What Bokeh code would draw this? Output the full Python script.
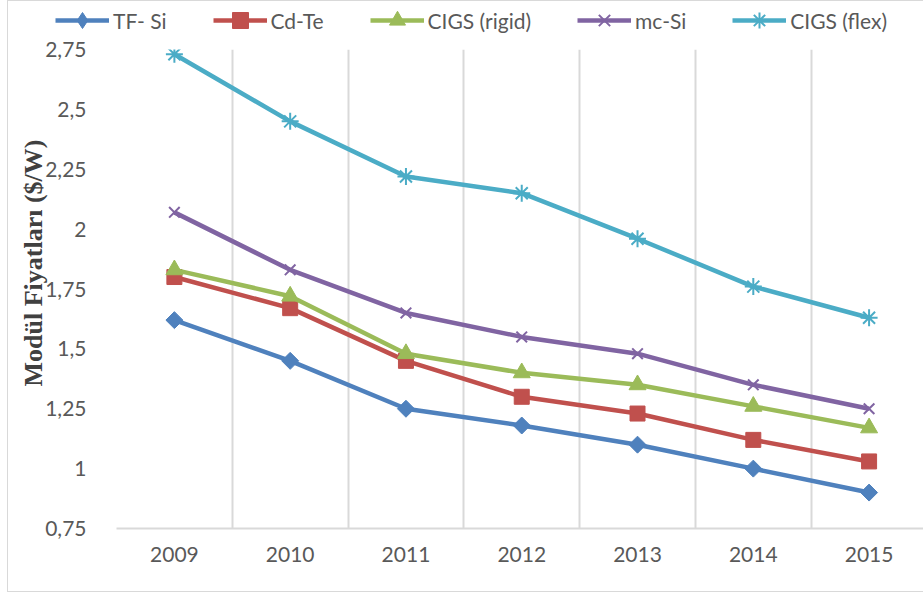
import math
from bokeh.plotting import figure
from bokeh.layouts import column
from bokeh.models import FixedTicker, Legend, LegendItem, Title, Range1d
from bokeh.embed import file_html
from bokeh.resources import INLINE

years = ["2009", "2010", "2011", "2012", "2013", "2014", "2015"]
tf_si = [1.62, 1.45, 1.25, 1.18, 1.10, 1.00, 0.90]
cd_te = [1.80, 1.67, 1.45, 1.30, 1.23, 1.12, 1.03]
cigs_rigid = [1.83, 1.72, 1.48, 1.40, 1.35, 1.26, 1.17]
mc_si = [2.07, 1.83, 1.65, 1.55, 1.48, 1.35, 1.25]
cigs_flex = [2.73, 2.45, 2.22, 2.15, 1.96, 1.76, 1.63]
y_ticks = [0.75, 1.0, 1.25, 1.5, 1.75, 2.0, 2.25, 2.5, 2.75]
y_tick_labels = ["0,75", "1", "1,25", "1,5", "1,75", "2", "2,25", "2,5", "2,75"]
y_title = "Modül Fiyatları ($/W)"

xs = list(range(len(years)))

# name, values, colour, chart marker, size, angle, marker line width, legend marker
series = [
    ("TF- Si", tf_si, "#4F81BD", "square", 12, math.pi / 4, 1, "diamond"),
    ("Cd-Te", cd_te, "#C0504D", "square", 15, 0, 1, "square"),
    ("CIGS (rigid)", cigs_rigid, "#9BBB59", "triangle", 17, 0, 1, "triangle"),
    ("mc-Si", mc_si, "#8064A2", "x", 15, 0, 2, "x"),
    ("CIGS (flex)", cigs_flex, "#4BACC6", "asterisk", 17, 0, 2, "asterisk"),
]

# main chart
p = figure(width=915, height=554, output_backend="svg", toolbar_location=None,
           x_range=Range1d(-0.5, 6.47), y_range=Range1d(0.75, 2.75),
           min_border_left=108, min_border_right=0, min_border_top=12, min_border_bottom=63)
p.frame_align = False
p.outline_line_color = None
p.background_fill_color = "white"

p.xaxis.ticker = FixedTicker(ticks=xs)
p.xaxis.major_label_overrides = {i: y for i, y in enumerate(years)}
p.xaxis.axis_line_color = "#d9d9d9"
p.xaxis.axis_line_width = 2
p.xaxis.major_tick_line_color = None
p.xaxis.minor_tick_line_color = None
p.xaxis.major_label_standoff = 12
p.xaxis.major_label_text_font = "Lato"
p.xaxis.major_label_text_font_size = "21px"
p.xaxis.major_label_text_color = "#595959"

p.yaxis.ticker = FixedTicker(ticks=y_ticks)
p.yaxis.major_label_overrides = {t: l for t, l in zip(y_ticks, y_tick_labels)}
p.yaxis.axis_line_color = None
p.yaxis.major_tick_line_color = None
p.yaxis.minor_tick_line_color = None
p.yaxis.major_label_standoff = 24
p.yaxis.major_label_text_font = "Lato"
p.yaxis.major_label_text_font_size = "21px"
p.yaxis.major_label_text_color = "#595959"

p.ygrid.grid_line_color = None
p.xgrid.ticker = FixedTicker(ticks=[i - 0.5 for i in range(len(years) + 1)])
p.xgrid.grid_line_color = "#d9d9d9"
p.xgrid.grid_line_width = 2

for name, vals, color, marker, size, angle, lw, lmarker in series:
    p.line(xs, vals, line_color=color, line_width=4.5)
    p.scatter(xs, vals, marker=marker, size=size, angle=angle,
              fill_color=color, line_color=color, line_width=lw)

title = Title(text=y_title, align="left", offset=142,
              text_font="Liberation Serif", text_font_style="bold",
              text_font_size="26px", text_color="#404040")
if "standoff" in Title.properties():
    title.standoff = -11
p.add_layout(title, "left")

# legend strip (same series, drawn outside its visible range so only the legend shows)
lg = figure(width=915, height=36, output_backend="svg", toolbar_location=None,
            x_range=Range1d(100, 101), y_range=Range1d(100, 101),
            x_axis_type=None, y_axis_type=None,
            min_border_left=0, min_border_right=0, min_border_top=0, min_border_bottom=0)
lg.frame_align = False
lg.outline_line_color = None
lg.xgrid.visible = False
lg.ygrid.visible = False
items = []
for name, vals, color, marker, size, angle, lw, lmarker in series:
    ln = lg.line(xs, vals, line_color=color, line_width=4.5)
    mk = lg.scatter(xs, vals, marker=lmarker, size=size,
                    fill_color=color, line_color=color, line_width=lw)
    items.append(LegendItem(label=name, renderers=[ln, mk]))

legend = Legend(items=items, orientation="horizontal", location=(45, -5),
                glyph_width=54, glyph_height=40, label_standoff=4, spacing=46,
                padding=2, margin=0, border_line_alpha=0, background_fill_alpha=0,
                label_text_font="Lato", label_text_font_size="21px",
                label_text_color="#595959")
lg.add_layout(legend, "center")

layout = column(lg, p, spacing=0,
                styles={"border": "1px solid #d9d9d9", "margin-left": "7px"})

open("out.html", "w").write(file_html(layout, INLINE))
